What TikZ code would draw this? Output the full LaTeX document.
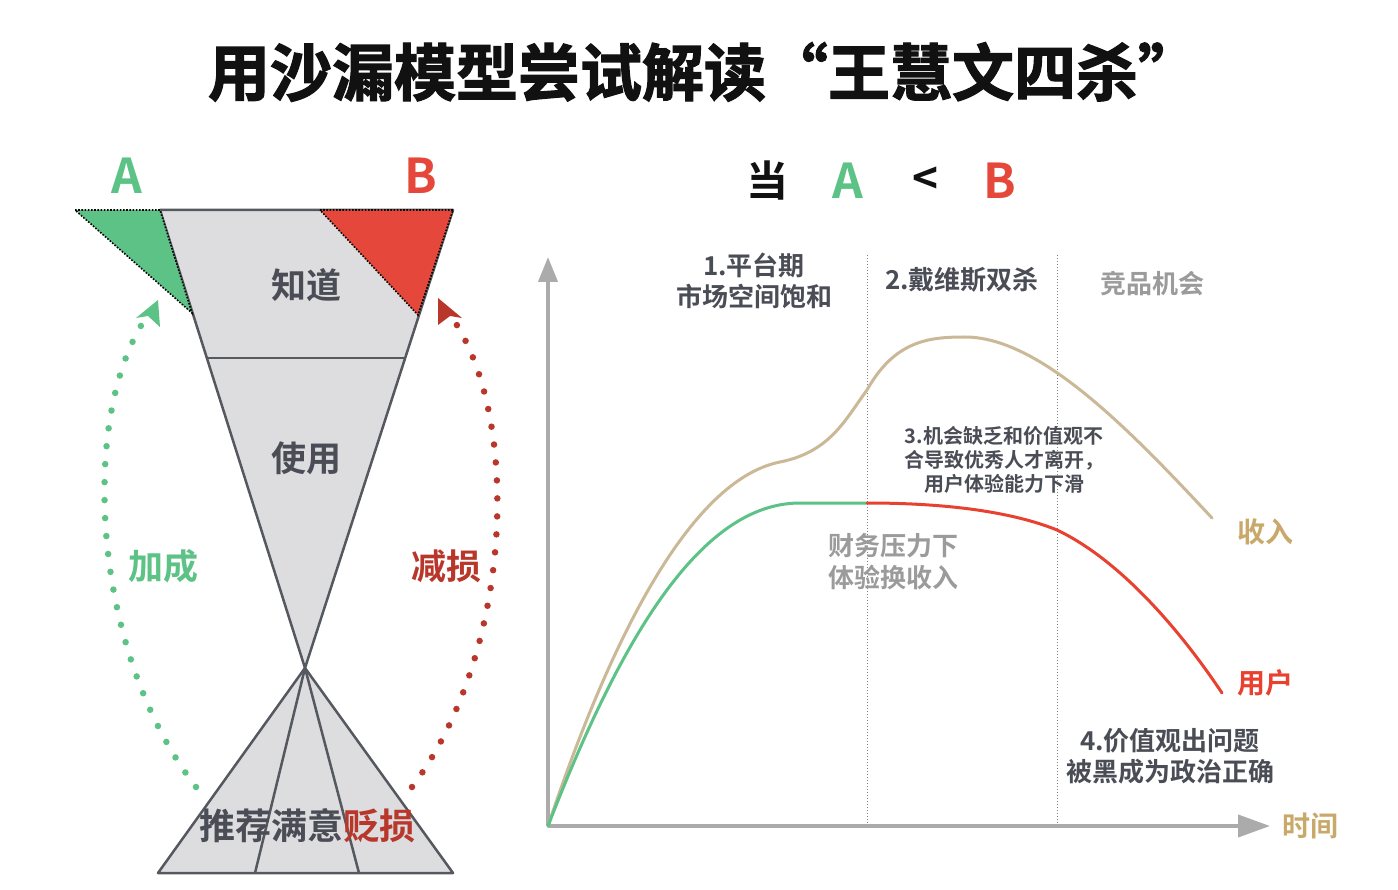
\documentclass[tikz,border=0pt]{standalone}
\usepackage{fontspec}
\setmainfont{Noto Sans CJK SC}[BoldFont={Noto Sans CJK SC Bold}]
\usetikzlibrary{arrows.meta}
\definecolor{ink}{HTML}{4A4D55}
\definecolor{ttl}{HTML}{111111}
\definecolor{gA}{HTML}{5CC285}
\definecolor{rB}{HTML}{E5483A}
\definecolor{rD}{HTML}{B8372A}
\definecolor{rU}{HTML}{E8412F}
\definecolor{tanL}{HTML}{CBB896}
\definecolor{tanT}{HTML}{C9A96A}
\definecolor{lgray}{HTML}{9B9B9B}
\definecolor{axisc}{HTML}{ABABAB}
\definecolor{glass}{HTML}{DDDDE0}
\definecolor{edge}{HTML}{55585F}
\tikzset{
  lbl/.style={inner sep=0pt, font=\bfseries\fontsize{#1}{#1}\selectfont},
  glassfill/.style={fill=glass, draw=edge, line width=2.5pt, line join=round},
  tri/.style={draw=black, line width=1.6pt, dash pattern=on 1.6pt off 1.6pt},
  dotarc/.style={line width=6.5pt, line cap=round, dash pattern=on 0pt off 18pt},
  vline/.style={draw=gray, line width=0.9pt, dash pattern=on 1pt off 2pt},
  axisline/.style={draw=axisc, line width=4pt},
}
\begin{document}
\begin{tikzpicture}[x=1pt,y=-1pt]
\useasboundingbox (0,0) rectangle (1398,890);
\fill[white] (0,0) rectangle (1398,890);
% title
\node[lbl=62, text=ttl] (title) at (704,72) {\special{pdf:literal 2 Tr 1.2 w}用沙漏模型尝试解读“王慧文四杀”\special{pdf:literal 0 Tr}};
% hourglass
\coordinate (tl) at (160,210);
\coordinate (tr) at (453,210);
\coordinate (ap) at (305,668);
\coordinate (bl) at (158,873);
\coordinate (br) at (453,873);
\filldraw[glassfill] (tl) -- (tr) -- (ap) -- cycle;
\filldraw[glassfill] (ap) -- (br) -- (bl) -- cycle;
\draw[edge, line width=2.5pt] (207,358) -- (405,358);
\draw[edge, line width=2.5pt] (ap) -- (255,873);
\draw[edge, line width=2.5pt] (ap) -- (359,873);
\filldraw[fill=gA, tri] (75,210) -- (tl) -- (192,313) -- cycle;
\filldraw[fill=rB, tri] (320,210) -- (tr) -- (418,315) -- cycle;
\node[lbl=48, text=gA] (A1) at (127,176) {A};
\node[lbl=48, text=rB] (B1) at (421,176) {B};
\node[lbl=35, text=ink] (zhidao) at (306,285) {知道};
\node[lbl=35, text=ink] (shiyong) at (306,458) {使用};
\node[lbl=36] (tuijian) at (307,826) {\textcolor{ink}{推荐满意}\textcolor{rD}{贬损}};
\node[lbl=35, text=gA] (jiacheng) at (163,566) {加成};
\node[lbl=35, text=rD] (jiansun) at (446,566) {减损};
% dotted arcs
\coordinate (g0) at (196,787);
\coordinate (g1) at (150,312);
\coordinate (r0) at (412,787);
\coordinate (r1) at (448,312);
\draw[gA, dotarc] (g0) .. controls (90,650) and (78,410) .. (g1);
\draw[rD, dotarc] (r0) .. controls (515,650) and (522,410) .. (r1);
\fill[gA] (158,300) -- (136,318) -- (148,316) -- (160,327) -- cycle;
\fill[rD] (438,298) -- (462,318) -- (450,316) -- (438,325) -- cycle;
% comparison header
\node[lbl=42, text=ttl] (dang) at (767,181) {当};
\node[lbl=48, text=gA] (A2) at (848,181) {A};
\node[lbl=44, text=ttl] (lt) at (925,181) {<};
\node[lbl=48, text=rB] (B2) at (1000,181) {B};
% chart
\coordinate (O) at (548,826);
\coordinate (Ytop) at (548,257);
\coordinate (Xend) at (1270,826);
\draw[vline] (867,255) -- (867,826);
\draw[vline] (1057,255) -- (1057,826);
\draw[axisline, -{Triangle[length=25pt,width=19pt]}] (O) -- (Ytop);
\draw[axisline, -{Triangle[length=32pt,width=22pt]}] (O) -- (Xend);
% revenue curve
\draw[tanL, line width=3pt, line cap=round]
  (O) .. controls (610,640) and (690,480) .. (780,462)
      .. controls (830,452) and (845,420) .. (867,390)
      .. controls (895,340) and (930,337) .. (965,337)
      .. controls (1040,337) and (1130,430) .. (1212,518);
% user curve
\draw[gA, line width=3pt, line cap=round]
  (O) .. controls (620,640) and (700,503) .. (800,503) -- (867,503);
\draw[rU, line width=3pt, line cap=round]
  (867,503) .. controls (960,503) and (1020,515) .. (1057,530)
      .. controls (1120,560) and (1180,630) .. (1222,693);
% chart labels
\node[lbl=26, text=ink, align=center] (p1) at (754,281) {1.平台期\\[5pt]市场空间饱和};
\node[lbl=26, text=ink] (p2) at (962,280) {2.戴维斯双杀};
\node[lbl=26, text=lgray] (jp) at (1152,284) {竞品机会};
\node[lbl=20, text=ink, align=center] (p3) at (1004,460) {3.机会缺乏和价值观不\\[4pt]合导致优秀人才离开，\\[4pt]用户体验能力下滑};
\node[lbl=26, text=lgray, align=left] (cw) at (893,562) {财务压力下\\[6pt]体验换收入};
\node[lbl=28, text=tanT] (shouru) at (1265,532) {收入};
\node[lbl=28, text=rU] (yonghu) at (1265,683) {用户};
\node[lbl=26, text=ink, align=center] (p4) at (1170,756) {4.价值观出问题\\[5pt]被黑成为政治正确};
\node[lbl=28, text=tanT] (shijian) at (1310,826) {时间};
\end{tikzpicture}
\end{document}
